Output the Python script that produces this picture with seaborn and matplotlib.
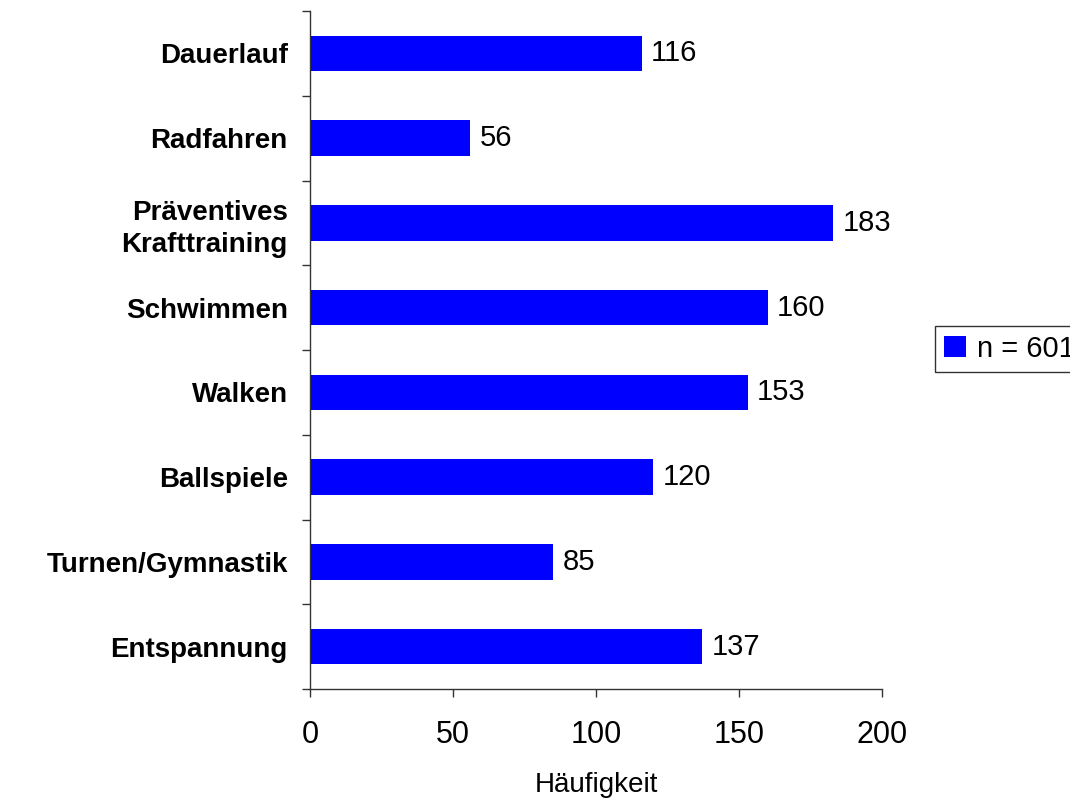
import matplotlib
matplotlib.use("Agg")
import matplotlib.pyplot as plt
import seaborn as sns
import pandas as pd
import numpy as np

categories = ["Dauerlauf", "Radfahren", "Präventives\nKrafttraining", "Schwimmen",
              "Walken", "Ballspiele", "Turnen/Gymnastik", "Entspannung"]
values = [116, 56, 183, 160, 153, 120, 85, 137]
series_label = "n = 601"
x_ticks = [0, 50, 100, 150, 200]
x_label = "Häufigkeit"

sns.set_theme(style="white")
plt.rcParams['font.family'] = ['Liberation Sans', 'DejaVu Sans']
plt.rcParams['text.color'] = 'black'
plt.rcParams['axes.labelcolor'] = 'black'
plt.rcParams['xtick.color'] = 'black'
plt.rcParams['ytick.color'] = 'black'

df = pd.DataFrame({"cat": categories, "val": values})

fig = plt.figure(figsize=(10.7, 8), dpi=100)
ax = fig.add_axes([310/1070, 1-689/800, (882-310)/1070, (689-11)/800])

sns.barplot(data=df, y="cat", x="val", orient="h", color="#0000FF", saturation=1,
            width=0.42, ax=ax, label=series_label, edgecolor="none")

ax.set_xlim(0, 200)
ax.set_ylim(len(categories)-0.5, -0.5)
ax.set_xticks(x_ticks)
ax.set_xticklabels([str(t) for t in x_ticks], fontsize=22)
ax.set_xlabel(x_label, fontsize=20, labelpad=16)
ax.set_ylabel("")
ax.set_yticks(range(len(categories)))
ax.set_yticklabels(categories, fontsize=20, fontweight="bold", linespacing=1.32)
ax.set_yticks(np.arange(-0.5, len(categories), 1), minor=True)

ax.tick_params(axis="y", which="major", length=0, pad=16)
ax.tick_params(axis="y", which="minor", length=6, width=1, color="#333333", direction="out", left=True)
ax.tick_params(axis="x", which="major", length=6, width=1, color="#333333", direction="out", bottom=True, pad=16)

for s in ["top", "right"]:
    ax.spines[s].set_visible(False)
for s in ["left", "bottom"]:
    ax.spines[s].set_color("#333333")
    ax.spines[s].set_linewidth(1)

for i, v in enumerate(values):
    ax.text(v + 3.3, i, str(v), va="center", ha="left", fontsize=21, color="black")

leg = ax.legend(loc="upper left", bbox_to_anchor=(935/1070, 1-326/800),
                bbox_transform=fig.transFigure, fontsize=21, frameon=True,
                fancybox=False, handlelength=0.75, handleheight=0.75,
                handletextpad=0.4, borderpad=0.3, borderaxespad=0)
leg.get_frame().set_edgecolor("black")
leg.get_frame().set_linewidth(1)

fig.savefig("out.png", dpi=100)
